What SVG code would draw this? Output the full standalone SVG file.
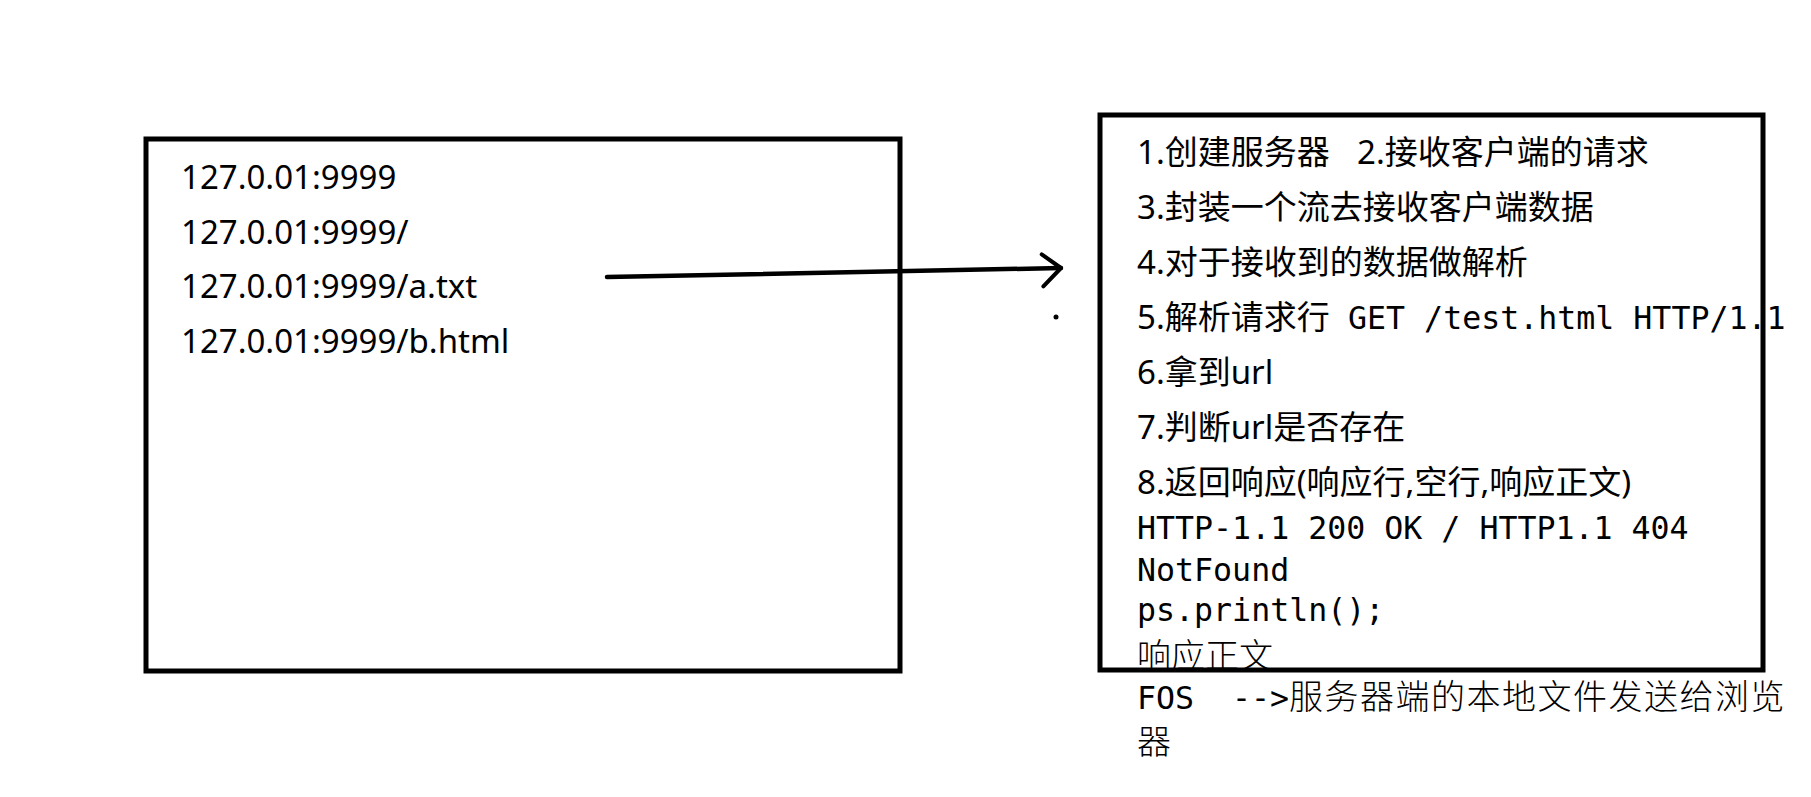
<svg xmlns="http://www.w3.org/2000/svg" width="1811" height="797" viewBox="0 0 1811 797">
<style>
.box{fill:none;stroke:#000;stroke-width:5}
.p{font-family:"Noto Sans","Noto Sans CJK SC",sans-serif;font-size:33px;fill:#000}
.m{font-family:"DejaVu Sans Mono","Liberation Mono","Noto Sans CJK SC",monospace;font-size:31.6px;fill:#000}
.c{font-family:"Noto Sans CJK SC",sans-serif;fill:#000}
.conn{fill:none;stroke:#000;stroke-width:4.5;stroke-linecap:round}
</style>
<defs>
<marker id="chev" markerUnits="userSpaceOnUse" markerWidth="40" markerHeight="50" viewBox="-30 -25 40 50" refX="0" refY="0" orient="auto" overflow="visible">
<path d="M-19,-14 L0,0 L-18,18" fill="none" stroke="#000" stroke-width="4" stroke-linecap="round" stroke-linejoin="round"/>
</marker>
</defs>
<rect width="1811" height="797" fill="#fff"/>
<g id="client">
<text class="p" x="181" y="189">127.0.01:9999</text>
<text class="p" x="181" y="244">127.0.01:9999/</text>
<text class="p" x="181" y="298">127.0.01:9999/a.txt</text>
<text class="p" x="181" y="353">127.0.01:9999/b.html</text>
<rect class="box" x="146" y="139" width="754" height="532"/>
</g>
<g id="server">
<text class="p" x="1137" y="164">1.创建服务器<tspan x="1357">2.接收客户端的请求</tspan></text>
<text class="p" x="1137" y="219">3.封装一个流去接收客户端数据</text>
<text class="p" x="1137" y="274">4.对于接收到的数据做解析</text>
<text class="p" x="1137" y="329">5.解析请求行<tspan class="m" x="1329"> GET /test.html HTTP/1.1</tspan></text>
<text class="p" x="1137" y="384">6.拿到url</text>
<text class="p" x="1137" y="439">7.判断url是否存在</text>
<text class="p" x="1137" y="494">8.返回响应(响应行,空行,响应正文)</text>
<text class="m" x="1137" y="539">HTTP-1.1 200 OK / HTTP1.1 404</text>
<text class="m" x="1137" y="581">NotFound</text>
<text class="m" x="1137" y="621">ps.println();</text>
<text class="c" x="1137" y="668" font-size="34" font-weight="300">响应正文</text>
<text class="m" x="1137" y="709">FOS<tspan x="1232">--&gt;</tspan><tspan class="c" x="1289" font-size="34" letter-spacing="1.5" font-weight="300">服务器端的本地文件发送给浏览</tspan></text>
<text class="c" x="1137" y="754" font-size="34" font-weight="300">器</text>
<rect class="box" x="1100" y="115" width="663" height="555"/>
</g>
<g id="connectors">
<path class="conn" d="M607,277 L1061,268" marker-end="url(#chev)"/>
<circle cx="1056" cy="317" r="2.5" fill="#000"/>
</g>
</svg>
